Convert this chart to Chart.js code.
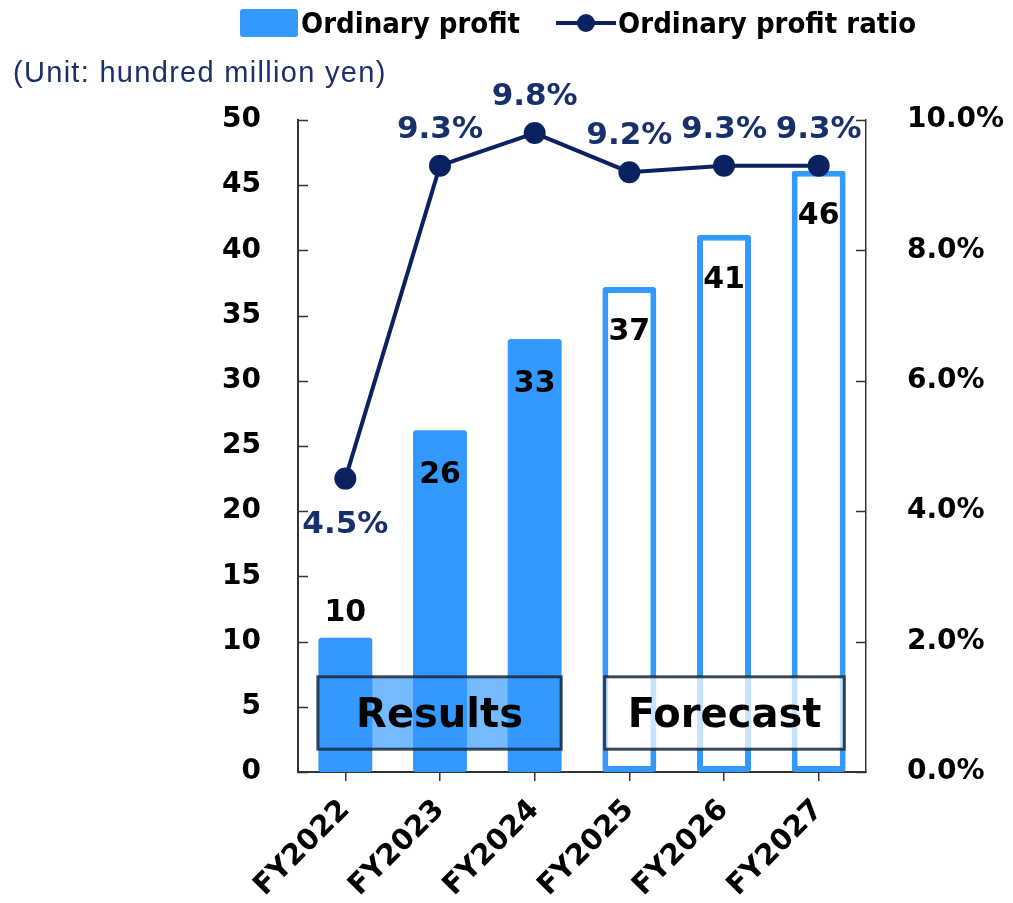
<!DOCTYPE html>
<html lang="en">
<head>
<meta charset="UTF-8">
<title>Ordinary Profit</title>
<script src="https://cdn.jsdelivr.net/npm/chart.js"></script>
<style>
  body { margin: 0; background: #fff; }
  #wrap { position: relative; width: 1013px; height: 903px; }
  #legend {
    position: absolute; top: 6px; left: 240px;
    display: flex; align-items: center;
    font-family: "Liberation Sans Narrow", "DejaVu Sans Condensed", "Roboto", sans-serif;
    font-size: 29px; font-weight: bold; color: #000;
  }
  .box { display: inline-block; width: 58px; height: 28px; background: #3399ff; border-radius: 3px; margin-right: 3px; }
  .lineKey { position: relative; display: inline-block; width: 60px; height: 28px; margin-left: 36px; margin-right: 2px; }
  .lineKey::before { content: ""; position: absolute; left: 0; right: 0; top: 12px; height: 4px; background: #0b2160; }
  .lineKey::after { content: ""; position: absolute; left: 21px; top: 5px; width: 18px; height: 18px; border-radius: 50%; background: #0b2160; }
  #unit {
    position: absolute; top: 56px; left: 13px;
    font-family: "Liberation Sans", Arial, sans-serif; font-size: 29px; letter-spacing: 1.3px; color: #1b2f6b;
  }
</style>
</head>
<body>
<div id="wrap">
  <canvas id="profitChart" width="1013" height="903"></canvas>
  <div id="legend"><span class="box"></span>Ordinary profit<span class="lineKey"></span>Ordinary profit ratio</div>
  <div id="unit">(Unit: hundred million yen)</div>
</div>
<script>
// data
const years = ['FY2022', 'FY2023', 'FY2024', 'FY2025', 'FY2026', 'FY2027'];
const profit = [10.3, 26.2, 33.2, 37.2, 41.2, 46.1];      // hundred million yen
const profitRatio = [4.5, 9.3, 9.8, 9.2, 9.3, 9.3];        // %
const isForecast = [false, false, false, true, true, true];
const periodLabels = ['Results', 'Forecast'];

const BLUE = '#3399ff';
const NAVY = '#0b2160';
const BOLD = '"DejaVu Sans", Verdana, sans-serif';

// boxes for Results / Forecast, in scale units
const periodBoxes = [
  { text: periodLabels[0], from: -0.29, to: 2.28, fill: 'rgba(51,153,255,0.68)' },
  { text: periodLabels[1], from: 2.74, to: 5.27, fill: 'rgba(255,255,255,0.72)' }
];

const labelPlugin = {
  id: 'labels',
  afterDatasetsDraw(chart) {
    const ctx = chart.ctx;
    const x = chart.scales.x, y = chart.scales.y;

    // Results / Forecast boxes
    periodBoxes.forEach(b => {
      const l = x.getPixelForValue(b.from), r = x.getPixelForValue(b.to);
      const t = y.getPixelForValue(7.3), bt = y.getPixelForValue(1.75);
      ctx.save();
      ctx.fillStyle = b.fill;
      ctx.fillRect(l, t, r - l, bt - t);
      ctx.lineWidth = 3;
      ctx.strokeStyle = 'rgba(25,40,60,0.85)';
      ctx.strokeRect(l, t, r - l, bt - t);
      ctx.fillStyle = '#000';
      ctx.font = 'bold 40px ' + BOLD;
      ctx.textAlign = 'center';
      ctx.textBaseline = 'middle';
      ctx.fillText(b.text, (l + r) / 2, (t + bt) / 2 + 4);
      ctx.restore();
    });

    // bar values
    const bars = chart.getDatasetMeta(0).data;
    ctx.save();
    ctx.font = 'bold 30px ' + BOLD;
    ctx.fillStyle = '#000';
    ctx.textAlign = 'center';
    ctx.textBaseline = 'middle';
    bars.forEach((bar, i) => {
      const yy = i === 0 ? bar.y - 24 : bar.y + 45;
      ctx.fillText(Math.round(profit[i]), bar.x, yy);
    });
    ctx.restore();

    // ratio values
    const pts = chart.getDatasetMeta(1).data;
    ctx.save();
    ctx.font = 'bold 31px ' + BOLD;
    ctx.fillStyle = '#17306b';
    ctx.textAlign = 'center';
    ctx.textBaseline = 'middle';
    pts.forEach((p, i) => {
      const yy = i === 0 ? p.y + 46 : p.y - 36;
      ctx.fillText(profitRatio[i].toFixed(1) + '%', p.x, yy);
    });
    ctx.restore();
  },
  afterDraw(chart) {
    // inward tick marks on both value axes
    const ctx = chart.ctx;
    ctx.save();
    ctx.strokeStyle = '#333';
    ctx.lineWidth = 1.5;
    ['y', 'y1'].forEach(id => {
      const s = chart.scales[id];
      const edge = id === 'y' ? chart.chartArea.left : chart.chartArea.right;
      const dir = id === 'y' ? 1 : -1;
      s.ticks.forEach((t, i) => {
        const py = Math.round(s.getPixelForTick(i)) + 0.5;
        ctx.beginPath();
        ctx.moveTo(edge, py);
        ctx.lineTo(edge + dir * 10, py);
        ctx.stroke();
      });
    });
    ctx.restore();
  }
};

new Chart(document.getElementById('profitChart').getContext('2d'), {
  type: 'bar',
  data: {
    labels: years,
    datasets: [
      {
        type: 'bar',
        label: 'Ordinary profit',
        data: profit,
        yAxisID: 'y',
        backgroundColor: isForecast.map(f => f ? '#ffffff' : BLUE),
        borderColor: BLUE,
        borderWidth: isForecast.map(f => f ? 6 : 0),
        borderSkipped: false,
        borderRadius: 3,
        barPercentage: 0.57,
        categoryPercentage: 1.0,
        order: 2
      },
      {
        type: 'line',
        label: 'Ordinary profit ratio',
        data: profitRatio,
        yAxisID: 'y1',
        borderColor: NAVY,
        backgroundColor: NAVY,
        borderWidth: 4,
        pointRadius: 9,
        pointHoverRadius: 9,
        tension: 0,
        clip: false,
        order: 1
      }
    ]
  },
  options: {
    responsive: false,
    animation: false,
    layout: { padding: { top: 120, left: 0, right: 0, bottom: 0 } },
    plugins: {
      legend: { display: false },
      tooltip: { enabled: false }
    },
    scales: {
      x: {
        offset: true,
        grid: { display: true, offset: false, drawOnChartArea: false, tickLength: 9, color: '#333', lineWidth: 1.5 },
        border: { display: true, color: '#333', width: 2 },
        ticks: {
          color: '#000',
          font: { family: BOLD, size: 29, weight: 'bold' },
          maxRotation: 45, minRotation: 45,
          padding: 12
        },
        afterFit(s) { s.height = 131; }
      },
      y: {
        position: 'left',
        min: 0, max: 50,
        ticks: {
          stepSize: 5,
          color: '#000',
          font: { family: BOLD, size: 28, weight: 'bold' },
          padding: 29
        },
        grid: { display: false },
        border: { display: true, color: '#333', width: 2 },
        afterFit(s) { s.width = 298; }
      },
      y1: {
        position: 'right',
        min: 0, max: 10,
        ticks: {
          stepSize: 2,
          color: '#000',
          font: { family: BOLD, size: 28, weight: 'bold' },
          padding: 33,
          callback: v => v.toFixed(1) + '%'
        },
        grid: { display: false },
        border: { display: true, color: '#333', width: 1.5 },
        afterFit(s) { s.width = 147; }
      }
    }
  },
  plugins: [labelPlugin]
});
</script>
</body>
</html>
